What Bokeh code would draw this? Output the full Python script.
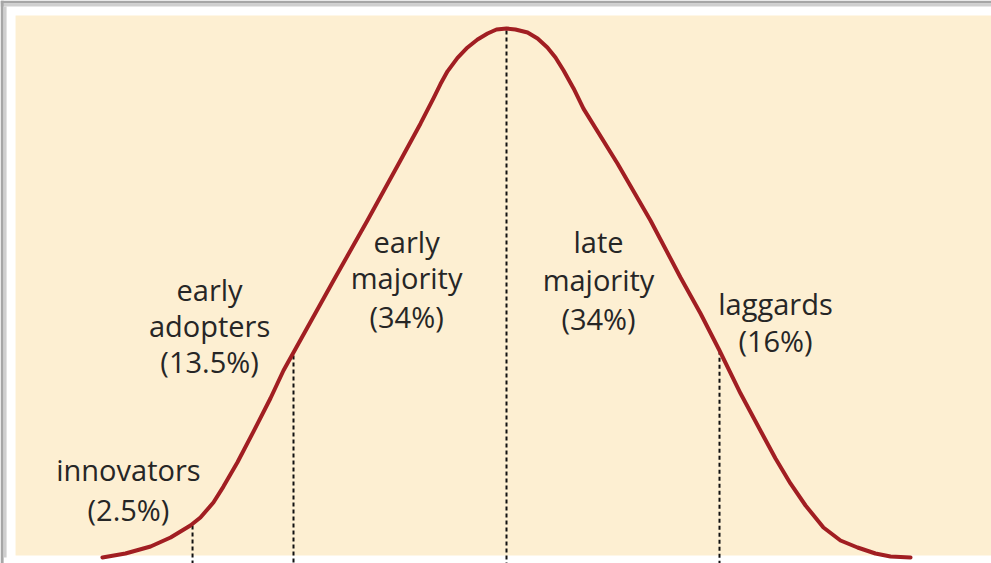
from bokeh.plotting import figure
from bokeh.models import Range1d, BoxAnnotation, ColumnDataSource
from bokeh.core.properties import value
from bokeh.embed import file_html
from bokeh.resources import INLINE

# Diffusion of innovations curve, x in standard deviations from the mean,
# y as share of the peak adoption rate
curve_x = [-1.897, -1.789, -1.671, -1.577, -1.484, -1.437, -1.376, -1.329, -1.263,
           -1.188, -1.108, -1.047, -1.000, -0.812, -0.653, -0.498, -0.404, -0.343,
           -0.310, -0.277, -0.230, -0.183, -0.136, -0.089, -0.047, 0.000,
           0.042, 0.099, 0.146, 0.192, 0.230, 0.268, 0.315, 0.362, 0.521, 0.676,
           0.817, 0.911, 1.000, 1.099, 1.192, 1.263, 1.333, 1.404, 1.488, 1.568,
           1.648, 1.732, 1.803, 1.897]
curve_y = [0.000, 0.0076, 0.0208, 0.0378, 0.0605, 0.0756, 0.1040, 0.1340, 0.1800,
           0.2380, 0.3010, 0.3535, 0.3875, 0.5236, 0.6371, 0.7505, 0.8200, 0.8680,
           0.8950, 0.9190, 0.9445, 0.9641, 0.9792, 0.9905, 0.9981, 1.0000,
           0.9981, 0.9924, 0.9811, 0.9641, 0.9452, 0.9206, 0.8866, 0.8480, 0.7448, 0.6371,
           0.5293, 0.4612, 0.3913, 0.3100, 0.2401, 0.1871, 0.1399, 0.0983, 0.0567, 0.0321,
           0.0189, 0.0076, 0.0019, 0.000]

# Category boundaries (dashed lines) and the curve height at each
boundary_x = [-1.474, -1.000, 0.000, 1.000]
boundary_top = [0.0605, 0.382, 0.996, 0.391]

# Category labels, one entry per text line
label_lines = ["innovators", "(2.5%)",
               "early", "adopters", "(13.5%)",
               "early", "majority", "(34%)",
               "late", "majority", "(34%)",
               "laggards", "(16%)"]

# Layout of the label lines (anchor: centre, baseline)
label_x = [-1.775, -1.775,
           -1.394, -1.394, -1.394,
           -0.469, -0.469, -0.469,
           0.432, 0.432, 0.432,
           1.263, 1.263]
label_y = [0.1661, 0.0909,
           0.5070, 0.4390, 0.3707,
           0.5975, 0.5293, 0.4556,
           0.5975, 0.5255, 0.4518,
           0.4802, 0.4101]

p = figure(width=991, height=563,
           x_range=Range1d(-2.3756, 2.277), y_range=Range1d(-0.01134, 1.0529),
           x_axis_location=None, y_axis_location=None,
           toolbar_location=None, output_backend="svg",
           min_border=0, min_border_left=0, min_border_right=0,
           min_border_top=0, min_border_bottom=0,
           background_fill_color="white", border_fill_color="white",
           outline_line_color=None)
p.grid.visible = False

# frame: grey edge on top and left, then white, then the beige panel
p.add_layout(BoxAnnotation(bottom=1.0473, fill_color="#A6A6A6", fill_alpha=1.0,
                           line_color=None, level="underlay"))
p.add_layout(BoxAnnotation(bottom=1.0416, top=1.0473, fill_color="#CFCFCF",
                           fill_alpha=1.0, line_color=None, level="underlay"))
p.add_layout(BoxAnnotation(right=-2.361, fill_color="#A6A6A6", fill_alpha=1.0,
                           line_color=None, level="underlay"))
p.add_layout(BoxAnnotation(left=-2.361, right=-2.347, bottom=0.0,
                           top=1.0416, fill_color="#CFCFCF", fill_alpha=1.0,
                           line_color=None, level="underlay"))
p.add_layout(BoxAnnotation(left=-2.305, bottom=0.0038, top=1.0246,
                           fill_color="#FDEFD2", fill_alpha=1.0,
                           line_color=None, level="underlay"))

bsrc = ColumnDataSource(dict(x=boundary_x, top=boundary_top,
                             bottom=[-0.05] * len(boundary_x)))
p.segment(x0="x", y0="top", x1="x", y1="bottom", source=bsrc,
          line_color="#111111", line_width=2, line_dash="4 3")

p.line(curve_x, curve_y, line_color="#A11E22", line_width=4,
       line_join="round", line_cap="round")

lsrc = ColumnDataSource(dict(x=label_x, y=label_y, text=label_lines))
p.text(x="x", y="y", text="text", source=lsrc,
       text_font=value("Open Sans"), text_font_size="29px",
       text_align="center", text_baseline="alphabetic",
       text_color="#262626")

open("out.html", "w").write(file_html(p, INLINE))
